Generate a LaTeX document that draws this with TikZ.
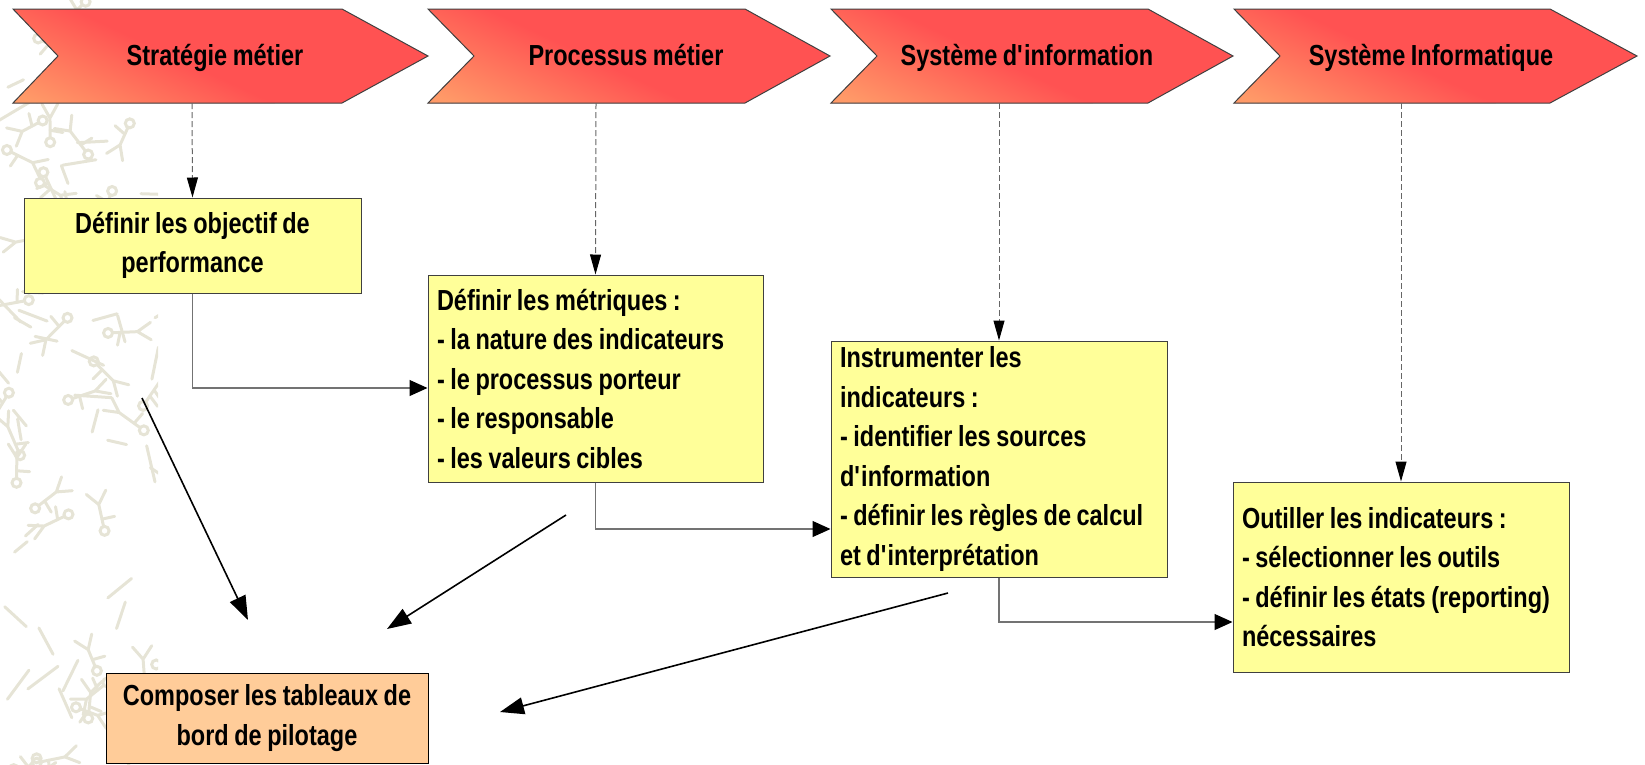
\documentclass[tikz,border=0pt]{standalone}
\usepackage{fontspec}
\setmainfont{Liberation Sans}[FakeStretch=0.81, WordSpace=0.85]
\usetikzlibrary{arrows.meta,calc}
\hyphenpenalty=10000
\exhyphenpenalty=10000

\definecolor{chevred}{HTML}{FF5252}
\definecolor{chevorange}{HTML}{FF9A68}
\definecolor{boxyellow}{HTML}{FFFF99}
\definecolor{boxorange}{HTML}{FFCC99}
\definecolor{doodlegray}{HTML}{E6E4D6}

\tikzset{
  chevline/.style={draw=black!75, line width=1pt},
  chevtext/.style={font=\bfseries\fontsize{29}{36}\selectfont, anchor=base, inner sep=0pt},
  taskbox/.style={draw=black!75, line width=1pt, fill=boxyellow,
    font=\bfseries\fontsize{29}{39.5}\selectfont,
    inner xsep=9pt, inner ysep=0pt},
  resultbox/.style={taskbox, fill=boxorange, draw=black},
  dasharrow/.style={draw=black!60, line width=1pt, dash pattern=on 6pt off 3pt,
    -{Triangle[length=20pt,width=11pt,color=black]}},
  elbow/.style={draw=black!55, line width=1.2pt,
    -{Triangle[length=18pt,width=16pt,color=black]}},
  diag/.style={draw=black, line width=1.6pt,
    -{Triangle[length=24pt,width=17pt,color=black]}},
  doodle/.style={draw=doodlegray, line width=3pt, line cap=round},
}

\begin{document}
\begin{tikzpicture}[x=1pt,y=-1pt]
\useasboundingbox (0,0) rectangle (1645,764);

% faint stick figures along the left margin
\pgfmathsetseed{5}
\begin{scope}
  \clip (0,0) rectangle (158,764);
  \foreach \k in {1,...,38}{
    \pgfmathsetmacro{\px}{rnd*158}
    \pgfmathsetmacro{\py}{rnd*780-10}
    \pgfmathsetmacro{\pa}{rnd*360}
    \pgfmathsetmacro{\pl}{18+rnd*10}
    \pgfmathsetmacro{\ps}{25+rnd*20}
    \pgfmathsetmacro{\pr}{\pa+90+rnd*20}
    \draw[doodle] (\px,\py) circle (4.5);
    \draw[doodle] (\px,\py) ++(\pa:4.5) -- ++(\pa:\pl) coordinate (hip)
      -- ++(\pa+\ps:16) (hip) -- ++(\pa-\ps:16);
    \draw[doodle] (\px,\py) ++(\pa:12) -- ++(\pr:13);
  }
  \foreach \k in {1,...,42}{
    \pgfmathsetmacro{\px}{rnd*158}
    \pgfmathsetmacro{\py}{rnd*764}
    \pgfmathsetmacro{\pa}{rnd*360}
    \pgfmathsetmacro{\pl}{16+rnd*22}
    \draw[doodle] (\px,\py) -- ++(\pa:\pl);
  }
\end{scope}

% header chevrons: red fill with an orange glow in the lower left corner
\foreach \L/\N/\S/\T in {13/58/342/428, 428/474/745/830, 831/877/1148/1233, 1234/1280/1550/1637}{
  \begin{scope}
    \clip (\L,9) -- (\S,9) -- (\T,56) -- (\S,103) -- (\L,103) -- (\N,56) -- cycle;
    \fill[chevred] (\L-5,0) rectangle (\T+5,110);
    \begin{scope}[transform canvas={shift={({\L+25},48)}, rotate=65}]
      \fill[chevorange] (-400,-500) rectangle (-50,500);
      \shade[left color=chevorange, right color=chevred] (-50.5,-500) rectangle (50,500);
    \end{scope}
  \end{scope}
  \draw[chevline] (\L,9) -- (\S,9) -- (\T,56) -- (\S,103) -- (\L,103) -- (\N,56) -- cycle;
}
\node[chevtext] (c1) at (215,65) {Stratégie métier};
\node[chevtext] (c2) at (626,65) {Processus métier};
\node[chevtext] (c3) at (1027,65) {Système d\textquotesingle information};
\node[chevtext] (c4) at (1431,65) {Système Informatique};

\coordinate (c1b) at (192,103);
\coordinate (c2b) at (596,103);
\coordinate (c3b) at (999,103);
\coordinate (c4b) at (1401,103);

% activity boxes
\node[taskbox, minimum width=337, minimum height=95, text width=319, align=flush center]
  (b1) at (192.5,245.5) {Définir les objectif de\\performance};
\node[taskbox, minimum width=335, minimum height=207, text width=317, align=flush left]
  (b2) at (595.5,378.5) {Définir les métriques :\\- la nature des indicateurs\\- le processus porteur\\- le responsable\\- les valeurs cibles};
\node[taskbox, minimum width=336, minimum height=236, text width=318, align=flush left]
  (b3) at (999,459) {Instrumenter les\\indicateurs :\\- identifier les sources\\d\textquotesingle information\\- définir les règles de calcul\\et d\textquotesingle interprétation};
\node[taskbox, minimum width=336, minimum height=190, text width=318, align=flush left]
  (b4) at (1401,577) {Outiller les indicateurs :\\- sélectionner les outils\\- définir les états (reporting)\\nécessaires};
\node[resultbox, minimum width=322, minimum height=90, text width=304, align=flush center]
  (b5) at (267,718) {Composer les tableaux de\\bord de pilotage};

% from each domain down to its activity
\draw[dasharrow] (c1b) -- (b1.north);
\draw[dasharrow] (c2b) -- (b2.north);
\draw[dasharrow] (c3b) -- (b3.north);
\draw[dasharrow] (c4b) -- (b4.north);

% sequence between activities
\coordinate (k1) at (0,388);
\coordinate (k2) at (0,529);
\coordinate (k3) at (0,622);
\draw[elbow] (b1.south) |- (b2.west |- k1);
\draw[elbow] (b2.south) |- (b3.west |- k2);
\draw[elbow] (b3.south) |- (b4.west |- k3);

% contributions to the dashboards
\coordinate (d1s) at (142,398);
\coordinate (d1e) at (248,620);
\coordinate (d2s) at (566,515);
\coordinate (d2e) at (387,629);
\coordinate (d3s) at (948,593);
\coordinate (d3e) at (500,712);
\draw[diag] (d1s) -- (d1e);
\draw[diag] (d2s) -- (d2e);
\draw[diag] (d3s) -- (d3e);
\end{tikzpicture}
\end{document}
